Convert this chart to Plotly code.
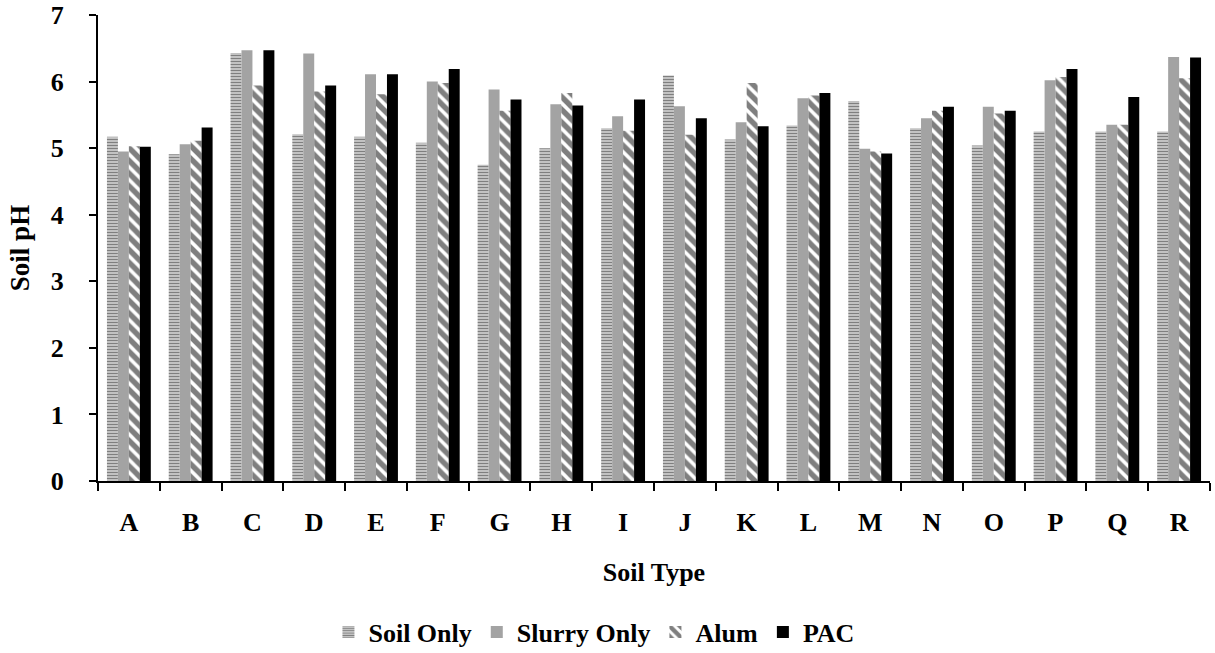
import plotly.graph_objects as go

categories = list("ABCDEFGHIJKLMNOPQR")
soil_only = [5.17, 4.91, 6.43, 5.21, 5.17, 5.08, 4.75, 5.00, 5.30, 6.09, 5.13, 5.34, 5.71, 5.30, 5.04, 5.25, 5.25, 5.25]
slurry_only = [4.95, 5.06, 6.47, 6.42, 6.11, 6.00, 5.88, 5.66, 5.48, 5.63, 5.39, 5.75, 4.99, 5.45, 5.62, 6.02, 5.35, 6.37]
alum = [5.03, 5.11, 5.94, 5.85, 5.81, 5.98, 5.56, 5.83, 5.26, 5.20, 5.98, 5.79, 4.95, 5.56, 5.52, 6.07, 5.35, 6.05]
pac = [5.02, 5.31, 6.47, 5.94, 6.11, 6.19, 5.73, 5.64, 5.73, 5.45, 5.33, 5.83, 4.92, 5.62, 5.56, 6.19, 5.77, 6.36]
y_ticks = [0, 1, 2, 3, 4, 5, 6, 7]

FONT = "Liberation Serif"

fig = go.Figure()
fig.add_trace(go.Bar(
    name="Soil Only", x=categories, y=soil_only,
    marker=dict(color="white", line=dict(width=0),
                pattern=dict(shape="-", fgcolor="black", bgcolor="white", size=3, solidity=0.65)),
))
fig.add_trace(go.Bar(
    name="Slurry Only", x=categories, y=slurry_only,
    marker=dict(color="#a3a3a3", line=dict(width=0)),
))
fig.add_trace(go.Bar(
    name="Alum", x=categories, y=alum,
    marker=dict(color="white", line=dict(width=0),
                pattern=dict(shape="\\", fgcolor="black", bgcolor="white", size=9, solidity=0.6)),
))
fig.add_trace(go.Bar(
    name="PAC", x=categories, y=pac,
    marker=dict(color="black", line=dict(width=0)),
))

fig.update_layout(
    width=1215, height=653,
    barmode="group", bargap=0.29, bargroupgap=0,
    plot_bgcolor="white", paper_bgcolor="white",
    margin=dict(l=98, r=5, t=15, b=172, autoexpand=False),
    font=dict(family=FONT, size=26, color="black", weight="bold"),
    showlegend=True,
    legend=dict(orientation="h", x=0.446, xanchor="center", y=-0.324, yanchor="middle",
                font=dict(family=FONT, size=26, color="black", weight="bold"),
                itemwidth=30, traceorder="normal"),
    xaxis=dict(
        automargin=False,
        showline=True, linecolor="black", linewidth=2,
        ticks="outside", ticklen=8, tickwidth=2, tickcolor="black",
        tickson="boundaries", ticklabelstandoff=17,
        tickfont=dict(family=FONT, size=26, color="black", weight="bold"),
        title=dict(text="Soil Type", font=dict(family=FONT, size=26, color="black", weight="bold"), standoff=27),
        showgrid=False, zeroline=False,
    ),
    yaxis=dict(
        automargin=False,
        range=[0, 7], tickvals=y_ticks,
        showline=True, linecolor="black", linewidth=2,
        ticks="outside", ticklen=7, tickwidth=2, tickcolor="black",
        ticklabelstandoff=20,
        tickfont=dict(family=FONT, size=26, color="black", weight="bold"),
        title=dict(text="Soil pH", font=dict(family=FONT, size=27, color="black", weight="bold"), standoff=13),
        showgrid=False, zeroline=False,
    ),
)

fig.write_html("out.html", config={"displayModeBar": False},
               post_script="document.body.style.margin='0';document.body.style.overflow='hidden';")
